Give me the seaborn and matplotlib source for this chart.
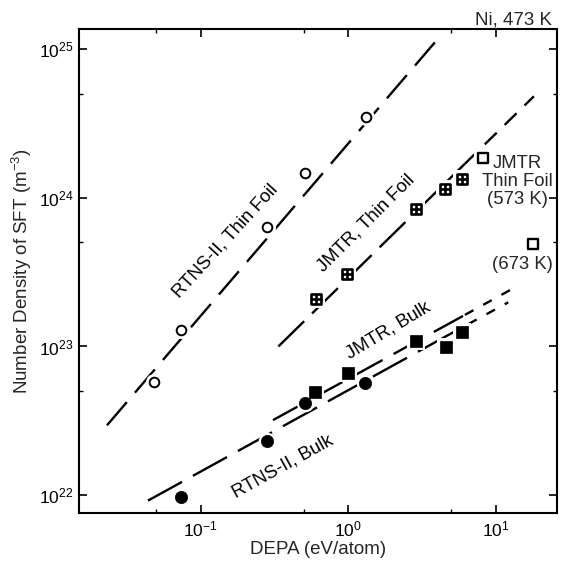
import matplotlib
matplotlib.use("Agg")
import matplotlib.pyplot as plt
import seaborn as sns
from matplotlib.ticker import LogLocator, NullFormatter, LogFormatterMathtext

# ---------------- data ----------------
rtns_foil_x = [0.0486, 0.0734, 0.281, 0.511, 1.32]
rtns_foil_y = [5.8e22, 1.30e23, 6.4e23, 1.47e24, 3.5e24]

jmtr_foil_x = [0.604, 0.98, 2.88, 4.55, 5.96]
jmtr_foil_y = [2.09e23, 3.09e23, 8.4e23, 1.15e24, 1.34e24]

jmtr_foil_hot_x = [8.27, 17.9]          # 573 K, 673 K
jmtr_foil_hot_y = [1.85e24, 4.9e23]

jmtr_bulk_x = [0.597, 1.0, 2.88, 4.62, 5.96]
jmtr_bulk_y = [4.94e22, 6.66e22, 1.09e23, 9.95e22, 1.25e23]

rtns_bulk_x = [0.0738, 0.281, 0.511, 1.30]
rtns_bulk_y = [0.98e22, 2.31e22, 4.2e22, 5.65e22]

# fitted trend lines: [start, (break), end]
rtns_foil_fit_x = [0.0232, 3.89]
rtns_foil_fit_y = [2.95e22, 1.11e25]
jmtr_foil_fit_x = [0.337, 6.2, 18.2]
jmtr_foil_fit_y = [1.0e23, 1.69e24, 4.8e24]
jmtr_bulk_fit_x = [0.31, 6.2, 13.0]
jmtr_bulk_fit_y = [3.2e22, 1.63e23, 2.44e23]
rtns_bulk_fit_x = [0.044, 4.9, 12.2]
rtns_bulk_fit_y = [9.2e21, 1.21e23, 1.98e23]

# ---------------- style ----------------
sns.set_style("ticks")
plt.rcParams['font.family'] = ['Liberation Sans', 'DejaVu Sans']
plt.rcParams['mathtext.fontset'] = 'custom'
plt.rcParams['mathtext.rm'] = 'Liberation Sans'
plt.rcParams['mathtext.it'] = 'Liberation Sans'
plt.rcParams['mathtext.bf'] = 'Liberation Sans'
plt.rcParams['lines.scale_dashes'] = False
plt.rcParams['lines.solid_capstyle'] = 'butt'
plt.rcParams['lines.dash_capstyle'] = 'butt'

W, H = 565, 561
fig = plt.figure(figsize=(W / 100, H / 100), dpi=100)
ax = fig.add_axes([79 / W, 1 - 513 / H, (557 - 79) / W, (513 - 29) / H])
ax.set_xscale('log')
ax.set_yscale('log')

LW = 1.7

def fit_line(xs, ys, dash):
    sns.lineplot(x=xs, y=ys, ax=ax, color='black', linewidth=LW,
                 linestyle=(0, dash), sort=False, estimator=None, zorder=1)

fit_line(rtns_foil_fit_x, rtns_foil_fit_y, (22, 9))
fit_line(jmtr_foil_fit_x[:2], jmtr_foil_fit_y[:2], (26, 8))
fit_line(jmtr_foil_fit_x[1:], jmtr_foil_fit_y[1:], (12, 8))
fit_line(jmtr_bulk_fit_x[:2], jmtr_bulk_fit_y[:2], (24, 9))
fit_line(jmtr_bulk_fit_x[1:], jmtr_bulk_fit_y[1:], (7, 8))
fit_line(rtns_bulk_fit_x[:2], rtns_bulk_fit_y[:2], (28, 9))
fit_line(rtns_bulk_fit_x[1:], rtns_bulk_fit_y[1:], (7, 8))

def halo(xs, ys, marker, s):
    sns.scatterplot(x=xs, y=ys, ax=ax, marker=marker, s=s, color='white',
                    edgecolor='white', linewidth=0, zorder=2)

halo(rtns_foil_x, rtns_foil_y, 'o', 150)
halo(jmtr_foil_x, jmtr_foil_y, 's', 150)
halo(jmtr_foil_hot_x, jmtr_foil_hot_y, 's', 150)
halo(jmtr_bulk_x, jmtr_bulk_y, 's', 170)
halo(rtns_bulk_x, rtns_bulk_y, 'o', 160)

# open circles
sns.scatterplot(x=rtns_foil_x, y=rtns_foil_y, ax=ax, marker='o', s=48,
                color='white', edgecolor='black', linewidth=1.4, zorder=3)
# hatched squares
sns.scatterplot(x=jmtr_foil_x, y=jmtr_foil_y, ax=ax, marker='s', s=52,
                color='white', edgecolor='black', linewidth=1.9, zorder=3)
sns.scatterplot(x=jmtr_foil_x, y=jmtr_foil_y, ax=ax, marker='+', s=52,
                color='black', linewidth=1.9, zorder=4)
# open squares
sns.scatterplot(x=jmtr_foil_hot_x, y=jmtr_foil_hot_y, ax=ax, marker='s', s=52,
                color='white', edgecolor='black', linewidth=1.7, zorder=3)
# filled squares
sns.scatterplot(x=jmtr_bulk_x, y=jmtr_bulk_y, ax=ax, marker='s', s=82,
                color='black', edgecolor='black', linewidth=0.5, zorder=3)
# filled circles
sns.scatterplot(x=rtns_bulk_x, y=rtns_bulk_y, ax=ax, marker='o', s=78,
                color='black', edgecolor='black', linewidth=0.5, zorder=3)

ax.set_xlim(0.0150, 26.1)
ax.set_ylim(7.6e21, 1.36e25)

for axis in (ax.xaxis, ax.yaxis):
    axis.set_major_locator(LogLocator(base=10, numticks=15))
    axis.set_major_formatter(LogFormatterMathtext())
    axis.set_minor_locator(LogLocator(base=10, subs=[5], numticks=15))
    axis.set_minor_formatter(NullFormatter())

ax.tick_params(which='both', direction='in', top=True, right=True, colors='black')
ax.tick_params(which='major', length=5.5, width=1.2, labelsize=12.5)
ax.tick_params(axis='x', which='major', pad=5)
ax.tick_params(axis='y', which='major', pad=4)
ax.tick_params(which='minor', length=3, width=1.0)
for sp in ax.spines.values():
    sp.set_linewidth(1.5)
    sp.set_color('black')

ax.set_xlabel('DEPA (eV/atom)', fontsize=13.5)
ax.set_ylabel('Number Density of SFT (m$^{-3}$)', fontsize=13.5)
ax.xaxis.set_label_coords(0.5, -0.058)
ax.yaxis.set_label_coords(-0.094, 0.5)

FS = 13.3
tk = dict(fontsize=FS, ha='center', va='center', rotation_mode='anchor', color='black')
ax.text(0.147, 5.1e23, 'RTNS-II, Thin Foil', rotation=47.6, **tk)
ax.text(1.32, 6.7e23, 'JMTR, Thin Foil', rotation=45, **tk)
ax.text(1.88, 1.28e23, 'JMTR, Bulk', rotation=31, **tk)
ax.text(0.362, 1.57e22, 'RTNS-II, Bulk', rotation=29, **tk)
ax.text(14.0, 1.28e24, 'JMTR\nThin Foil\n(573 K)', fontsize=FS, ha='center',
        va='center', multialignment='center', linespacing=1.08)
ax.text(15.1, 3.55e23, '(673 K)', fontsize=FS, ha='center', va='center')

fig.text(552 / W, 1 - 20 / H, 'Ni, 473 K', fontsize=13.5, ha='right', va='center')

fig.savefig('out.png', dpi=100)
